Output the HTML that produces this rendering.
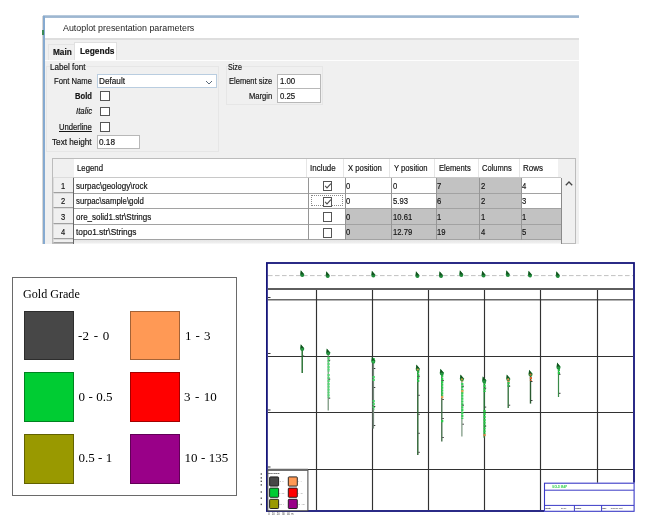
<!DOCTYPE html>
<html lang="en"><head><meta charset="utf-8"><title>Autoplot presentation parameters</title>
<style>
html,body{margin:0;padding:0;background:#fff;}
body{width:646px;height:528px;overflow:hidden;position:relative;font-family:"Liberation Sans",sans-serif;font-size:8.8px;}
.plot{position:absolute;left:0;top:0;}
.dlg{position:absolute;left:0;top:0;width:646px;height:244px;}
.dlg::before{content:"";position:absolute;left:43px;top:16px;width:536px;height:228px;background:#f0f0f0;}
.titlebar{position:absolute;left:43px;top:15.4px;width:536px;height:22.6px;background:linear-gradient(#c4d3e2 0,#86a5c6 2.4px,#fff 2.8px);}
.lborder{position:absolute;left:43.4px;top:16px;width:1.8px;height:228px;background:#86aad0;box-shadow:-1px 0 0 #d6d6d6;}
.gart{position:absolute;left:42px;top:30px;width:2px;height:4.6px;background:#3d8a55;}
.tabline{position:absolute;left:45px;top:37.5px;width:534px;height:2px;background:#dedede;}
.pageline{position:absolute;left:45px;top:59.8px;width:534px;height:1.6px;background:#fdfdfd;}
.tab-main{position:absolute;left:47.5px;top:43.5px;width:27px;height:16.5px;border:1px solid #e4e4e4;border-bottom:none;box-sizing:border-box;background:#f0f0f0;}
.tab-leg{position:absolute;left:74.4px;top:42px;width:43px;height:18.6px;background:#fff;border:1px solid #e0e0e0;border-bottom:none;box-sizing:border-box;}
.t{position:absolute;white-space:pre;line-height:1;color:#141414;transform-origin:0 50%;-webkit-text-stroke:0.18px currentColor;}
.t.s{font-family:"Liberation Serif",serif;-webkit-text-stroke:0;}
.b{position:absolute;}
.grp{position:absolute;border:1px solid #e6e6e6;box-sizing:border-box;}
.combo{position:absolute;background:#fff;border:1px solid #b9cde0;box-sizing:border-box;}
.inp{position:absolute;background:#fff;border:1px solid #b8b8b8;box-sizing:border-box;}
.cb{position:absolute;width:9.6px;height:9.8px;background:#fff;border:1.1px solid #555;box-sizing:border-box;}
.tbl{position:absolute;border:1px solid #bcbcbc;box-sizing:border-box;background:#f0f0f0;}
.rh{position:absolute;background:#f0f0f0;border:1px solid #a0a0a0;border-top-color:#dcdcdc;border-left-color:#dcdcdc;box-sizing:border-box;}
.legend{position:absolute;left:12px;top:277px;width:225px;height:219px;border:1px solid #6a6a6a;box-sizing:border-box;background:#fff;}
.sw{position:absolute;width:50px;height:49.8px;border:1px solid rgba(0,0,0,.36);box-sizing:border-box;}
</style></head>
<body>
<svg class="plot" width="646" height="528" viewBox="0 0 646 528">
<rect x="266.9" y="263" width="367.1" height="248" fill="#fff" stroke="#15157a" stroke-width="1.8"/>
<line x1="268" y1="275.6" x2="633" y2="275.6" stroke="#c2c2c2" stroke-width="1" stroke-dasharray="4.6 2.4"/>
<line x1="268" y1="288.9" x2="633" y2="288.9" stroke="#5e5e5e" stroke-width="2"/>
<line x1="268" y1="299.8" x2="633" y2="299.8" stroke="#686868" stroke-width="1.6"/>
<line x1="268" y1="356.5" x2="633" y2="356.5" stroke="#323232" stroke-width="1.15"/>
<line x1="268" y1="412.5" x2="633" y2="412.5" stroke="#323232" stroke-width="1.15"/>
<line x1="268" y1="469.5" x2="633" y2="469.5" stroke="#323232" stroke-width="1.15"/>
<line x1="316.5" y1="290" x2="316.5" y2="510" stroke="#323232" stroke-width="1.15"/>
<line x1="372.5" y1="290" x2="372.5" y2="510" stroke="#323232" stroke-width="1.15"/>
<line x1="428.5" y1="290" x2="428.5" y2="510" stroke="#323232" stroke-width="1.15"/>
<line x1="484.5" y1="290" x2="484.5" y2="510" stroke="#323232" stroke-width="1.15"/>
<line x1="540.5" y1="290" x2="540.5" y2="510" stroke="#323232" stroke-width="1.15"/>
<line x1="597.5" y1="290" x2="597.5" y2="483" stroke="#323232" stroke-width="1.15"/>
<line x1="268" y1="297.5" x2="270.5" y2="297.5" stroke="#333" stroke-width="1"/>
<line x1="268" y1="353.5" x2="270.5" y2="353.5" stroke="#333" stroke-width="1"/>
<line x1="268" y1="410" x2="270.5" y2="410" stroke="#333" stroke-width="1"/>
<line x1="268" y1="467" x2="270.5" y2="467" stroke="#333" stroke-width="1"/>
<path d="M300.9 270.5 L304.1 274.1 Q304.6 276.7 302.4 277.1 Q299.9 276.9 300.2 274.1 Z" fill="#1f8a3a"/>
<path d="M300.7 270.3 L303.9 274.2 L300.7 274.4 Z" fill="#14501f"/>
<path d="M326.4 271.5 L329.6 275.1 Q330.1 277.7 327.9 278.1 Q325.4 277.9 325.7 275.1 Z" fill="#1f8a3a"/>
<path d="M326.2 271.3 L329.4 275.2 L326.2 275.4 Z" fill="#14501f"/>
<path d="M372.0 271.0 L375.2 274.6 Q375.7 277.2 373.5 277.6 Q371.0 277.4 371.3 274.6 Z" fill="#1f8a3a"/>
<path d="M371.8 270.8 L375.0 274.7 L371.8 274.9 Z" fill="#14501f"/>
<path d="M416.1 271.5 L419.3 275.1 Q419.8 277.7 417.6 278.1 Q415.1 277.9 415.4 275.1 Z" fill="#1f8a3a"/>
<path d="M415.9 271.3 L419.1 275.2 L415.9 275.4 Z" fill="#14501f"/>
<path d="M439.7 271.5 L442.9 275.1 Q443.4 277.7 441.2 278.1 Q438.7 277.9 439.0 275.1 Z" fill="#1f8a3a"/>
<path d="M439.5 271.3 L442.7 275.2 L439.5 275.4 Z" fill="#14501f"/>
<path d="M460.0 270.5 L463.2 274.1 Q463.7 276.7 461.5 277.1 Q459.0 276.9 459.3 274.1 Z" fill="#1f8a3a"/>
<path d="M459.8 270.3 L463.0 274.2 L459.8 274.4 Z" fill="#14501f"/>
<path d="M482.2 271.0 L485.4 274.6 Q485.9 277.2 483.7 277.6 Q481.2 277.4 481.5 274.6 Z" fill="#1f8a3a"/>
<path d="M482.0 270.8 L485.2 274.7 L482.0 274.9 Z" fill="#14501f"/>
<path d="M506.5 270.5 L509.7 274.1 Q510.2 276.7 508.0 277.1 Q505.5 276.9 505.8 274.1 Z" fill="#1f8a3a"/>
<path d="M506.3 270.3 L509.5 274.2 L506.3 274.4 Z" fill="#14501f"/>
<path d="M528.7 271.0 L531.9 274.6 Q532.4 277.2 530.2 277.6 Q527.7 277.4 528.0 274.6 Z" fill="#1f8a3a"/>
<path d="M528.5 270.8 L531.7 274.7 L528.5 274.9 Z" fill="#14501f"/>
<path d="M556.5 271.5 L559.7 275.1 Q560.2 277.7 558.0 278.1 Q555.5 277.9 555.8 275.1 Z" fill="#1f8a3a"/>
<path d="M556.3 271.3 L559.5 275.2 L556.3 275.4 Z" fill="#14501f"/>
<line x1="302.2" y1="348.5" x2="302.2" y2="373" stroke="#1f6b2a" stroke-width="1.4"/>
<path d="M300.9 344.5 L304.1 348.1 Q304.6 350.7 302.4 351.1 Q299.9 350.9 300.2 348.1 Z" fill="#1f8a3a"/>
<path d="M300.7 344.3 L303.9 348.2 L300.7 348.4 Z" fill="#14501f"/>
<circle cx="302.2" cy="349.2" r="1.1" fill="#2a9a44"/>
<rect x="302.7" y="355.5" width="1.5" height="1" fill="#3c3c3c"/>
<line x1="328.2" y1="352.7" x2="328.2" y2="410.6" stroke="#64866a" stroke-width="1.1"/>
<line x1="328.59999999999997" y1="357" x2="328.59999999999997" y2="372" stroke="#52da74" stroke-width="2.2" stroke-dasharray="2.2 0.7"/>
<line x1="328.59999999999997" y1="374" x2="328.59999999999997" y2="398" stroke="#52da74" stroke-width="2.2" stroke-dasharray="2.2 0.7"/>
<path d="M326.9 348.7 L330.1 352.3 Q330.6 354.9 328.4 355.3 Q325.9 355.1 326.2 352.3 Z" fill="#1f8a3a"/>
<path d="M326.7 348.5 L329.9 352.4 L326.7 352.6 Z" fill="#14501f"/>
<circle cx="328.2" cy="353.4" r="1.1" fill="#2a9a44"/>
<rect x="328.7" y="359.7" width="1.5" height="1" fill="#3c3c3c"/>
<rect x="328.7" y="378.7" width="1.5" height="1" fill="#3c3c3c"/>
<rect x="328.7" y="397.7" width="1.5" height="1" fill="#3c3c3c"/>
<line x1="373.3" y1="361" x2="373.3" y2="428.6" stroke="#74887a" stroke-width="1.6"/>
<line x1="373.7" y1="358" x2="373.7" y2="364" stroke="#2fcc50" stroke-width="2.2" stroke-dasharray="2.2 0.7"/>
<line x1="373.7" y1="376" x2="373.7" y2="381.5" stroke="#46d868" stroke-width="2.2" stroke-dasharray="2.2 0.7"/>
<line x1="373.7" y1="400" x2="373.7" y2="409.5" stroke="#46d868" stroke-width="2.2" stroke-dasharray="2.2 0.7"/>
<path d="M372.0 357.0 L375.2 360.6 Q375.7 363.2 373.5 363.6 Q371.0 363.4 371.3 360.6 Z" fill="#1f8a3a"/>
<path d="M371.8 356.8 L375.0 360.7 L371.8 360.9 Z" fill="#14501f"/>
<circle cx="373.3" cy="361.7" r="1.1" fill="#30c050"/>
<rect x="373.8" y="368" width="1.5" height="1" fill="#3c3c3c"/>
<rect x="373.8" y="387" width="1.5" height="1" fill="#3c3c3c"/>
<rect x="373.8" y="406" width="1.5" height="1" fill="#3c3c3c"/>
<rect x="373.8" y="425" width="1.5" height="1" fill="#3c3c3c"/>
<line x1="417.8" y1="368.8" x2="417.8" y2="455" stroke="#28602f" stroke-width="1.4"/>
<line x1="418.2" y1="371" x2="418.2" y2="382" stroke="#2bbf4a" stroke-width="2.2" stroke-dasharray="2.2 0.7"/>
<path d="M416.5 364.8 L419.7 368.4 Q420.2 371.0 418.0 371.4 Q415.5 371.2 415.8 368.4 Z" fill="#1f8a3a"/>
<path d="M416.3 364.6 L419.5 368.5 L416.3 368.7 Z" fill="#14501f"/>
<circle cx="417.8" cy="369.5" r="1.1" fill="#c8a048"/>
<rect x="418.3" y="375.8" width="1.5" height="1" fill="#3c3c3c"/>
<rect x="418.3" y="394.8" width="1.5" height="1" fill="#3c3c3c"/>
<rect x="418.3" y="413.8" width="1.5" height="1" fill="#3c3c3c"/>
<rect x="418.3" y="432.8" width="1.5" height="1" fill="#3c3c3c"/>
<rect x="418.3" y="451.8" width="1.5" height="1" fill="#3c3c3c"/>
<line x1="441.8" y1="373" x2="441.8" y2="441.5" stroke="#3a6640" stroke-width="1.3"/>
<line x1="442.2" y1="372" x2="442.2" y2="396" stroke="#2bcf4c" stroke-width="2.2" stroke-dasharray="2.2 0.7"/>
<line x1="442.2" y1="396" x2="442.2" y2="399.2" stroke="#e0a050" stroke-width="2.2" stroke-dasharray="2.2 0.7"/>
<line x1="442.2" y1="420" x2="442.2" y2="423" stroke="#2bcf4c" stroke-width="2.2" stroke-dasharray="2.2 0.7"/>
<path d="M440.5 369.0 L443.7 372.6 Q444.2 375.2 442.0 375.6 Q439.5 375.4 439.8 372.6 Z" fill="#1f8a3a"/>
<path d="M440.3 368.8 L443.5 372.7 L440.3 372.9 Z" fill="#14501f"/>
<circle cx="441.8" cy="373.7" r="1.1" fill="#2a9a44"/>
<rect x="442.3" y="380" width="1.5" height="1" fill="#3c3c3c"/>
<rect x="442.3" y="399" width="1.5" height="1" fill="#3c3c3c"/>
<rect x="442.3" y="418" width="1.5" height="1" fill="#3c3c3c"/>
<rect x="442.3" y="437" width="1.5" height="1" fill="#3c3c3c"/>
<line x1="461.9" y1="378.7" x2="461.9" y2="436.6" stroke="#6a8a70" stroke-width="1.1"/>
<line x1="462.29999999999995" y1="378" x2="462.29999999999995" y2="381.5" stroke="#c8a040" stroke-width="2.2" stroke-dasharray="2.2 0.7"/>
<line x1="462.29999999999995" y1="383" x2="462.29999999999995" y2="419" stroke="#36d458" stroke-width="2.2" stroke-dasharray="2.2 0.7"/>
<line x1="462.29999999999995" y1="390" x2="462.29999999999995" y2="392.6" stroke="#e0a050" stroke-width="2.2" stroke-dasharray="2.2 0.7"/>
<path d="M460.6 374.7 L463.8 378.3 Q464.3 380.9 462.1 381.3 Q459.6 381.1 459.9 378.3 Z" fill="#1f8a3a"/>
<path d="M460.4 374.5 L463.6 378.4 L460.4 378.6 Z" fill="#14501f"/>
<circle cx="461.9" cy="379.4" r="1.1" fill="#b89a40"/>
<rect x="462.4" y="385.7" width="1.5" height="1" fill="#3c3c3c"/>
<rect x="462.4" y="404.7" width="1.5" height="1" fill="#3c3c3c"/>
<rect x="462.4" y="423.7" width="1.5" height="1" fill="#3c3c3c"/>
<line x1="484.2" y1="380.6" x2="484.2" y2="437.8" stroke="#2a7a3a" stroke-width="1.4"/>
<line x1="484.59999999999997" y1="379" x2="484.59999999999997" y2="392" stroke="#28cc48" stroke-width="2.2" stroke-dasharray="2.2 0.7"/>
<line x1="484.59999999999997" y1="410" x2="484.59999999999997" y2="434" stroke="#28cc48" stroke-width="2.2" stroke-dasharray="2.2 0.7"/>
<line x1="484.59999999999997" y1="434" x2="484.59999999999997" y2="436.6" stroke="#d08040" stroke-width="2.2" stroke-dasharray="2.2 0.7"/>
<path d="M482.9 376.6 L486.1 380.2 Q486.6 382.8 484.4 383.2 Q481.9 383.0 482.2 380.2 Z" fill="#1f8a3a"/>
<path d="M482.7 376.4 L485.9 380.3 L482.7 380.5 Z" fill="#14501f"/>
<circle cx="484.2" cy="381.3" r="1.1" fill="#2a9a44"/>
<rect x="484.7" y="387.6" width="1.5" height="1" fill="#3c3c3c"/>
<rect x="484.7" y="406.6" width="1.5" height="1" fill="#3c3c3c"/>
<rect x="484.7" y="425.6" width="1.5" height="1" fill="#3c3c3c"/>
<line x1="508.2" y1="378.7" x2="508.2" y2="408" stroke="#2a6a33" stroke-width="1.3"/>
<line x1="508.59999999999997" y1="378" x2="508.59999999999997" y2="382" stroke="#f09050" stroke-width="2.2" stroke-dasharray="2.2 0.7"/>
<line x1="508.59999999999997" y1="382" x2="508.59999999999997" y2="387" stroke="#30c050" stroke-width="2.2" stroke-dasharray="2.2 0.7"/>
<path d="M506.9 374.7 L510.1 378.3 Q510.6 380.9 508.4 381.3 Q505.9 381.1 506.2 378.3 Z" fill="#1f8a3a"/>
<path d="M506.7 374.5 L509.9 378.4 L506.7 378.6 Z" fill="#14501f"/>
<circle cx="508.2" cy="379.4" r="1.1" fill="#e09050"/>
<rect x="508.7" y="385.7" width="1.5" height="1" fill="#3c3c3c"/>
<rect x="508.7" y="404.7" width="1.5" height="1" fill="#3c3c3c"/>
<line x1="530.5" y1="374" x2="530.5" y2="403.6" stroke="#2a5a30" stroke-width="1.4"/>
<line x1="530.9" y1="374" x2="530.9" y2="377" stroke="#30c050" stroke-width="2.2" stroke-dasharray="2.2 0.7"/>
<line x1="530.9" y1="377" x2="530.9" y2="380.8" stroke="#e06030" stroke-width="2.2" stroke-dasharray="2.2 0.7"/>
<path d="M529.2 370.0 L532.4 373.6 Q532.9 376.2 530.7 376.6 Q528.2 376.4 528.5 373.6 Z" fill="#1f8a3a"/>
<path d="M529.0 369.8 L532.2 373.7 L529.0 373.9 Z" fill="#14501f"/>
<circle cx="530.5" cy="374.7" r="1.1" fill="#c07030"/>
<rect x="531.0" y="381" width="1.5" height="1" fill="#3c3c3c"/>
<rect x="531.0" y="400" width="1.5" height="1" fill="#3c3c3c"/>
<line x1="558.5" y1="366.8" x2="558.5" y2="397" stroke="#3a8a48" stroke-width="1.2"/>
<line x1="558.9" y1="366" x2="558.9" y2="375" stroke="#28cc48" stroke-width="2.2" stroke-dasharray="2.2 0.7"/>
<path d="M557.2 362.8 L560.4 366.4 Q560.9 369.0 558.7 369.4 Q556.2 369.2 556.5 366.4 Z" fill="#1f8a3a"/>
<path d="M557.0 362.6 L560.2 366.5 L557.0 366.7 Z" fill="#14501f"/>
<circle cx="558.5" cy="367.5" r="1.1" fill="#2a9a44"/>
<rect x="559.0" y="373.8" width="1.5" height="1" fill="#3c3c3c"/>
<rect x="559.0" y="392.8" width="1.5" height="1" fill="#3c3c3c"/>
<rect x="267.8" y="470.2" width="40.1" height="40.6" fill="#fff" stroke="#444" stroke-width="1"/>
<line x1="268" y1="469.7" x2="308" y2="469.7" stroke="#6a6a6a" stroke-width="1.8"/>
<rect x="269.6" y="476.9" width="9" height="9.2" rx="0.8" fill="#474747" stroke="#151515" stroke-width="0.9"/>
<rect x="269.6" y="488.1" width="9" height="9.2" rx="0.8" fill="#00cc33" stroke="#151515" stroke-width="0.9"/>
<rect x="269.6" y="499.3" width="9" height="9.2" rx="0.8" fill="#999900" stroke="#151515" stroke-width="0.9"/>
<rect x="288.3" y="476.9" width="9" height="9.2" rx="0.8" fill="#ff9955" stroke="#151515" stroke-width="0.9"/>
<rect x="288.3" y="488.1" width="9" height="9.2" rx="0.8" fill="#ff0000" stroke="#151515" stroke-width="0.9"/>
<rect x="288.3" y="499.3" width="9" height="9.2" rx="0.8" fill="#990088" stroke="#151515" stroke-width="0.9"/>
<rect x="544" y="482.7" width="92" height="30.5" fill="#fff"/>
<rect x="544.5" y="483.2" width="89.6" height="28.1" fill="#fff" stroke="#3a3ac6" stroke-width="1.1"/>
<line x1="544.5" y1="490.2" x2="634" y2="490.2" stroke="#3a3ac6" stroke-width="1"/>
<line x1="544.5" y1="505.4" x2="634" y2="505.4" stroke="#3a3ac6" stroke-width="1"/>
<line x1="574.4" y1="505.4" x2="574.4" y2="511" stroke="#3a3ac6" stroke-width="1"/>
<line x1="601.6" y1="505.4" x2="601.6" y2="511" stroke="#3a3ac6" stroke-width="1"/>
<text x="552" y="487.8" font-family="Liberation Sans, sans-serif" font-size="2.8" fill="#2fd04c" font-weight="bold">GOLD MAP</text>
<text x="545.6" y="509.3" font-family="Liberation Sans, sans-serif" font-size="2.4" fill="#112" font-weight="bold">Date</text>
<text x="561" y="509.3" font-family="Liberation Sans, sans-serif" font-size="2.4" fill="#334" >2016</text>
<text x="575.2" y="509.3" font-family="Liberation Sans, sans-serif" font-size="2.4" fill="#223" font-weight="bold">Scale</text>
<text x="602.4" y="509.3" font-family="Liberation Sans, sans-serif" font-size="2.4" fill="#112" font-weight="bold">Ref</text>
<text x="610.8" y="509.3" font-family="Liberation Sans, sans-serif" font-size="2.4" fill="#223" >surpac plot</text>
<text x="267.8" y="474.3" font-family="Liberation Serif, serif" font-size="2.3" fill="#000" font-weight="bold">Gold Grade</text>
<text x="279.20000000000005" y="482.29999999999995" font-family="Liberation Serif, serif" font-size="2" fill="#444" >-2 - 0</text>
<text x="279.20000000000005" y="493.5" font-family="Liberation Serif, serif" font-size="2" fill="#444" >0 - 0.5</text>
<text x="279.20000000000005" y="504.7" font-family="Liberation Serif, serif" font-size="2" fill="#444" >0.5 - 1</text>
<text x="297.90000000000003" y="482.29999999999995" font-family="Liberation Serif, serif" font-size="2" fill="#444" >1 - 3</text>
<text x="297.90000000000003" y="493.5" font-family="Liberation Serif, serif" font-size="2" fill="#444" >3 - 10</text>
<text x="297.90000000000003" y="504.7" font-family="Liberation Serif, serif" font-size="2" fill="#444" >10 - 135</text>
<text x="268.2" y="515.2" font-family="Liberation Sans, sans-serif" font-size="2.6" fill="#333" xml:space="preserve">0   10   20   30   40  m</text>
<rect x="260.6" y="473.3" width="1.4" height="1.4" fill="#555"/>
<rect x="260.6" y="477.2" width="1.4" height="1.4" fill="#555"/>
<rect x="260.6" y="480.6" width="1.4" height="1.4" fill="#555"/>
<rect x="260.6" y="484.2" width="1.4" height="1.4" fill="#555"/>
<rect x="260.6" y="491.3" width="1.4" height="1.4" fill="#555"/>
<rect x="260.6" y="497.5" width="1.4" height="1.4" fill="#555"/>
<rect x="260.6" y="503.7" width="1.4" height="1.4" fill="#555"/>
</svg>
<div class="dlg">
<div class="titlebar"></div>
<div class="lborder"></div><div class="gart"></div>
<div class="tabline"></div>
<div class="tab-main"></div><div class="tab-leg"></div>
<div class="pageline"></div>
<span class="t" style="left:62.90px;top:23.00px;font-size:9.5px;color:#222;transform:scaleX(0.9346);-webkit-text-stroke:0;">Autoplot presentation parameters</span>
<span class="t" style="left:52.80px;top:48.00px;font-weight:bold;transform:scaleX(0.9378);">Main</span>
<span class="t" style="left:80.30px;top:47.00px;font-weight:bold;transform:scaleX(0.9510);">Legends</span>
<div class="grp" style="left:46px;top:66px;width:173px;height:86px"></div>
<div class="grp" style="left:226px;top:66px;width:97px;height:39px"></div>
<span class="t" style="left:50.30px;top:63.00px;transform:scaleX(0.9158);background:#f0f0f0;">Label font</span>
<span class="t" style="left:227.60px;top:63.00px;transform:scaleX(0.8117);background:#f0f0f0;">Size</span>
<span class="t" style="left:54.00px;top:77.00px;transform:scaleX(0.8710);">Font Name</span>
<div class="combo" style="left:97px;top:74px;width:119.5px;height:14.4px"><svg width="8" height="5" viewBox="0 0 8 5" style="position:absolute;right:3px;top:4.5px"><polyline points="1,1 4,4 7,1" fill="none" stroke="#5a6a7a" stroke-width="1"/></svg></div>
<span class="t" style="left:99.30px;top:77.00px;transform:scaleX(0.9327);">Default</span>
<span class="t" style="left:75.00px;top:92.00px;font-weight:bold;transform:scaleX(0.8646);">Bold</span>
<div class="cb" style="left:100px;top:91px"></div>
<span class="t" style="left:75.80px;top:107.00px;font-style:italic;transform:scaleX(0.8898);">Italic</span>
<div class="cb" style="left:100px;top:106.5px"></div>
<span class="t" style="left:59.00px;top:123.00px;transform:scaleX(0.8737);text-decoration:underline;">Underline</span>
<div class="cb" style="left:100px;top:122px"></div>
<span class="t" style="left:52.30px;top:138.00px;transform:scaleX(0.9307);">Text height</span>
<div class="inp" style="left:97px;top:135px;width:42.5px;height:13.5px"></div>
<span class="t" style="left:99.00px;top:138.00px;transform:scaleX(0.9343);">0.18</span>
<span class="t" style="left:229.10px;top:77.00px;transform:scaleX(0.8558);">Element size</span>
<div class="inp" style="left:277px;top:74px;width:43.5px;height:14.5px"></div>
<span class="t" style="left:279.60px;top:77.00px;transform:scaleX(0.8876);">1.00</span>
<span class="t" style="left:249.00px;top:92.00px;transform:scaleX(0.8628);">Margin</span>
<div class="inp" style="left:277px;top:88px;width:43.5px;height:14.5px"></div>
<span class="t" style="left:279.60px;top:92.00px;transform:scaleX(0.8876);">0.25</span>
<div class="tbl" style="left:52px;top:158.3px;width:523.5px;height:85.69999999999999px"></div>
<div class="b" style="left:74px;top:159.3px;width:484px;height:18.19999999999999px;background:#fff;"></div>
<div class="b" style="left:306.2px;top:159.3px;width:1px;height:18.19999999999999px;background:#e6e6e6;"></div>
<div class="b" style="left:343.3px;top:159.3px;width:1px;height:18.19999999999999px;background:#e6e6e6;"></div>
<div class="b" style="left:388.5px;top:159.3px;width:1px;height:18.19999999999999px;background:#e6e6e6;"></div>
<div class="b" style="left:434.4px;top:159.3px;width:1px;height:18.19999999999999px;background:#e6e6e6;"></div>
<div class="b" style="left:477.8px;top:159.3px;width:1px;height:18.19999999999999px;background:#e6e6e6;"></div>
<div class="b" style="left:519.0px;top:159.3px;width:1px;height:18.19999999999999px;background:#e6e6e6;"></div>
<div class="b" style="left:74px;top:177.5px;width:486.6px;height:62.099999999999994px;background:#fff;"></div>
<div class="b" style="left:74px;top:239.6px;width:486.6px;height:4.400000000000006px;background:linear-gradient(#e6e6e6,#ededed 60%,#fafafa)"></div>
<div class="b" style="left:436.5px;top:177.5px;width:84.79999999999995px;height:31.19999999999999px;background:#c2c2c2;"></div>
<div class="b" style="left:345px;top:208.7px;width:215.60000000000002px;height:30.900000000000006px;background:#c2c2c2;"></div>
<div class="rh" style="left:53px;top:177.0px;width:20.5px;height:15.699999999999989px"></div>
<div class="rh" style="left:53px;top:192.7px;width:20.5px;height:15.5px"></div>
<div class="rh" style="left:53px;top:208.2px;width:20.5px;height:15.5px"></div>
<div class="rh" style="left:53px;top:223.7px;width:20.5px;height:15.400000000000006px"></div>
<div class="rh" style="left:53px;top:239.1px;width:20.5px;height:4.400000000000006px"></div>
<div class="b" style="left:74px;top:177.0px;width:486.6px;height:1px;background:#c8c8c8;"></div>
<div class="b" style="left:74px;top:192.7px;width:486.6px;height:1px;background:#a2a2a2;"></div>
<div class="b" style="left:74px;top:208.2px;width:486.6px;height:1px;background:#a2a2a2;"></div>
<div class="b" style="left:74px;top:223.7px;width:486.6px;height:1px;background:#a2a2a2;"></div>
<div class="b" style="left:74px;top:239.1px;width:486.6px;height:1px;background:#a2a2a2;"></div>
<div class="b" style="left:307.7px;top:177.5px;width:1px;height:62.099999999999994px;background:#969696;"></div>
<div class="b" style="left:344.5px;top:177.5px;width:1px;height:62.099999999999994px;background:#969696;"></div>
<div class="b" style="left:391.0px;top:177.5px;width:1px;height:62.099999999999994px;background:#969696;"></div>
<div class="b" style="left:436.0px;top:177.5px;width:1px;height:62.099999999999994px;background:#969696;"></div>
<div class="b" style="left:478.8px;top:177.5px;width:1px;height:62.099999999999994px;background:#969696;"></div>
<div class="b" style="left:520.8px;top:177.5px;width:1px;height:62.099999999999994px;background:#969696;"></div>
<div class="b" style="left:73.2px;top:177.5px;width:1.3px;height:66.5px;background:#666;"></div>
<div class="b" style="left:560.6px;top:177.5px;width:1.6px;height:66.5px;background:#8a8a8a;"></div>
<span class="t" style="left:77.00px;top:164.00px;transform:scaleX(0.8856);">Legend</span>
<span class="t" style="left:310.30px;top:164.00px;transform:scaleX(0.9057);">Include</span>
<span class="t" style="left:347.70px;top:164.00px;transform:scaleX(0.8773);">X position</span>
<span class="t" style="left:393.50px;top:164.00px;transform:scaleX(0.8705);">Y position</span>
<span class="t" style="left:438.60px;top:164.00px;transform:scaleX(0.8644);">Elements</span>
<span class="t" style="left:481.70px;top:164.00px;transform:scaleX(0.8554);">Columns</span>
<span class="t" style="left:522.50px;top:164.00px;transform:scaleX(0.9045);">Rows</span>
<div class="b" style="left:311px;top:195.3px;width:31.5px;height:11px;border:1px dotted #8a8a8a;box-sizing:border-box"></div>
<span class="t" style="left:61.00px;top:182.00px;transform:scaleX(0.8561);">1</span>
<span class="t" style="left:75.50px;top:182.00px;transform:scaleX(0.9081);">surpac\geology\rock</span>
<span class="t" style="left:346.20px;top:182.00px;transform:scaleX(0.8700);">0</span>
<span class="t" style="left:392.50px;top:182.00px;transform:scaleX(0.8700);">0</span>
<span class="t" style="left:437.30px;top:182.00px;transform:scaleX(0.8700);">7</span>
<span class="t" style="left:480.60px;top:182.00px;transform:scaleX(0.8700);">2</span>
<span class="t" style="left:522.40px;top:182.00px;transform:scaleX(0.8700);">4</span>
<div class="cb" style="left:322.7px;top:181.1px"><svg width="8" height="8" viewBox="0 0 8 8" style="position:absolute;left:0;top:0"><polyline points="1.1,3.9 3,5.9 6.9,1.7" fill="none" stroke="#4a4a4a" stroke-width="1.05"/></svg></div>
<span class="t" style="left:61.00px;top:197.00px;transform:scaleX(0.8561);">2</span>
<span class="t" style="left:75.50px;top:197.00px;transform:scaleX(0.8901);">surpac\sample\gold</span>
<span class="t" style="left:346.20px;top:197.00px;transform:scaleX(0.8700);">0</span>
<span class="t" style="left:392.50px;top:197.00px;transform:scaleX(0.8700);">5.93</span>
<span class="t" style="left:437.30px;top:197.00px;transform:scaleX(0.8700);">6</span>
<span class="t" style="left:480.60px;top:197.00px;transform:scaleX(0.8700);">2</span>
<span class="t" style="left:522.40px;top:197.00px;transform:scaleX(0.8700);">3</span>
<div class="cb" style="left:322.7px;top:196.8px"><svg width="8" height="8" viewBox="0 0 8 8" style="position:absolute;left:0;top:0"><polyline points="1.1,3.9 3,5.9 6.9,1.7" fill="none" stroke="#4a4a4a" stroke-width="1.05"/></svg></div>
<span class="t" style="left:61.00px;top:213.00px;transform:scaleX(0.8561);">3</span>
<span class="t" style="left:75.50px;top:213.00px;transform:scaleX(0.9112);">ore_solid1.str\Strings</span>
<span class="t" style="left:346.20px;top:213.00px;transform:scaleX(0.8700);">0</span>
<span class="t" style="left:392.50px;top:213.00px;transform:scaleX(0.8700);">10.61</span>
<span class="t" style="left:437.30px;top:213.00px;transform:scaleX(0.8700);">1</span>
<span class="t" style="left:480.60px;top:213.00px;transform:scaleX(0.8700);">1</span>
<span class="t" style="left:522.40px;top:213.00px;transform:scaleX(0.8700);">1</span>
<div class="cb" style="left:322.7px;top:212.3px"></div>
<span class="t" style="left:61.00px;top:228.00px;transform:scaleX(0.8561);">4</span>
<span class="t" style="left:75.50px;top:228.00px;transform:scaleX(0.9444);">topo1.str\Strings</span>
<span class="t" style="left:346.20px;top:228.00px;transform:scaleX(0.8700);">0</span>
<span class="t" style="left:392.50px;top:228.00px;transform:scaleX(0.8700);">12.79</span>
<span class="t" style="left:437.30px;top:228.00px;transform:scaleX(0.8700);">19</span>
<span class="t" style="left:480.60px;top:228.00px;transform:scaleX(0.8700);">4</span>
<span class="t" style="left:522.40px;top:228.00px;transform:scaleX(0.8700);">5</span>
<div class="cb" style="left:322.7px;top:227.8px"></div>
<svg width="8" height="5" viewBox="0 0 8 5" style="position:absolute;left:564.5px;top:180.5px"><polyline points="0.8,4.2 4,1 7.2,4.2" fill="none" stroke="#444" stroke-width="1.3"/></svg>
</div>
<div class="legend"></div>
<span class="t s" style="left:22.90px;top:288.00px;font-size:12px;color:#000;transform:scaleX(1.0084);">Gold Grade</span>
<div class="sw" style="left:24px;top:310.5px;background:#474747"></div>
<span class="t s" style="left:78.10px;top:329.00px;font-size:13px;color:#000;word-spacing:1.56px;">-2 - 0</span>
<div class="sw" style="left:24px;top:372.2px;background:#00cc33"></div>
<span class="t s" style="left:78.40px;top:390.00px;font-size:13px;color:#000;word-spacing:0.30px;">0 - 0.5</span>
<div class="sw" style="left:24px;top:434px;background:#999900"></div>
<span class="t s" style="left:78.50px;top:451.00px;font-size:13px;color:#000;word-spacing:0.05px;">0.5 - 1</span>
<div class="sw" style="left:129.9px;top:310.5px;background:#ff9955"></div>
<span class="t s" style="left:184.90px;top:329.00px;font-size:13px;color:#000;word-spacing:0.88px;">1 - 3</span>
<div class="sw" style="left:129.9px;top:372.2px;background:#ff0000"></div>
<span class="t s" style="left:183.90px;top:390.00px;font-size:13px;color:#000;word-spacing:1.28px;">3 - 10</span>
<div class="sw" style="left:129.9px;top:434px;background:#990088"></div>
<span class="t s" style="left:184.40px;top:451.00px;font-size:13px;color:#000;word-spacing:0.28px;">10 - 135</span>
</body></html>
